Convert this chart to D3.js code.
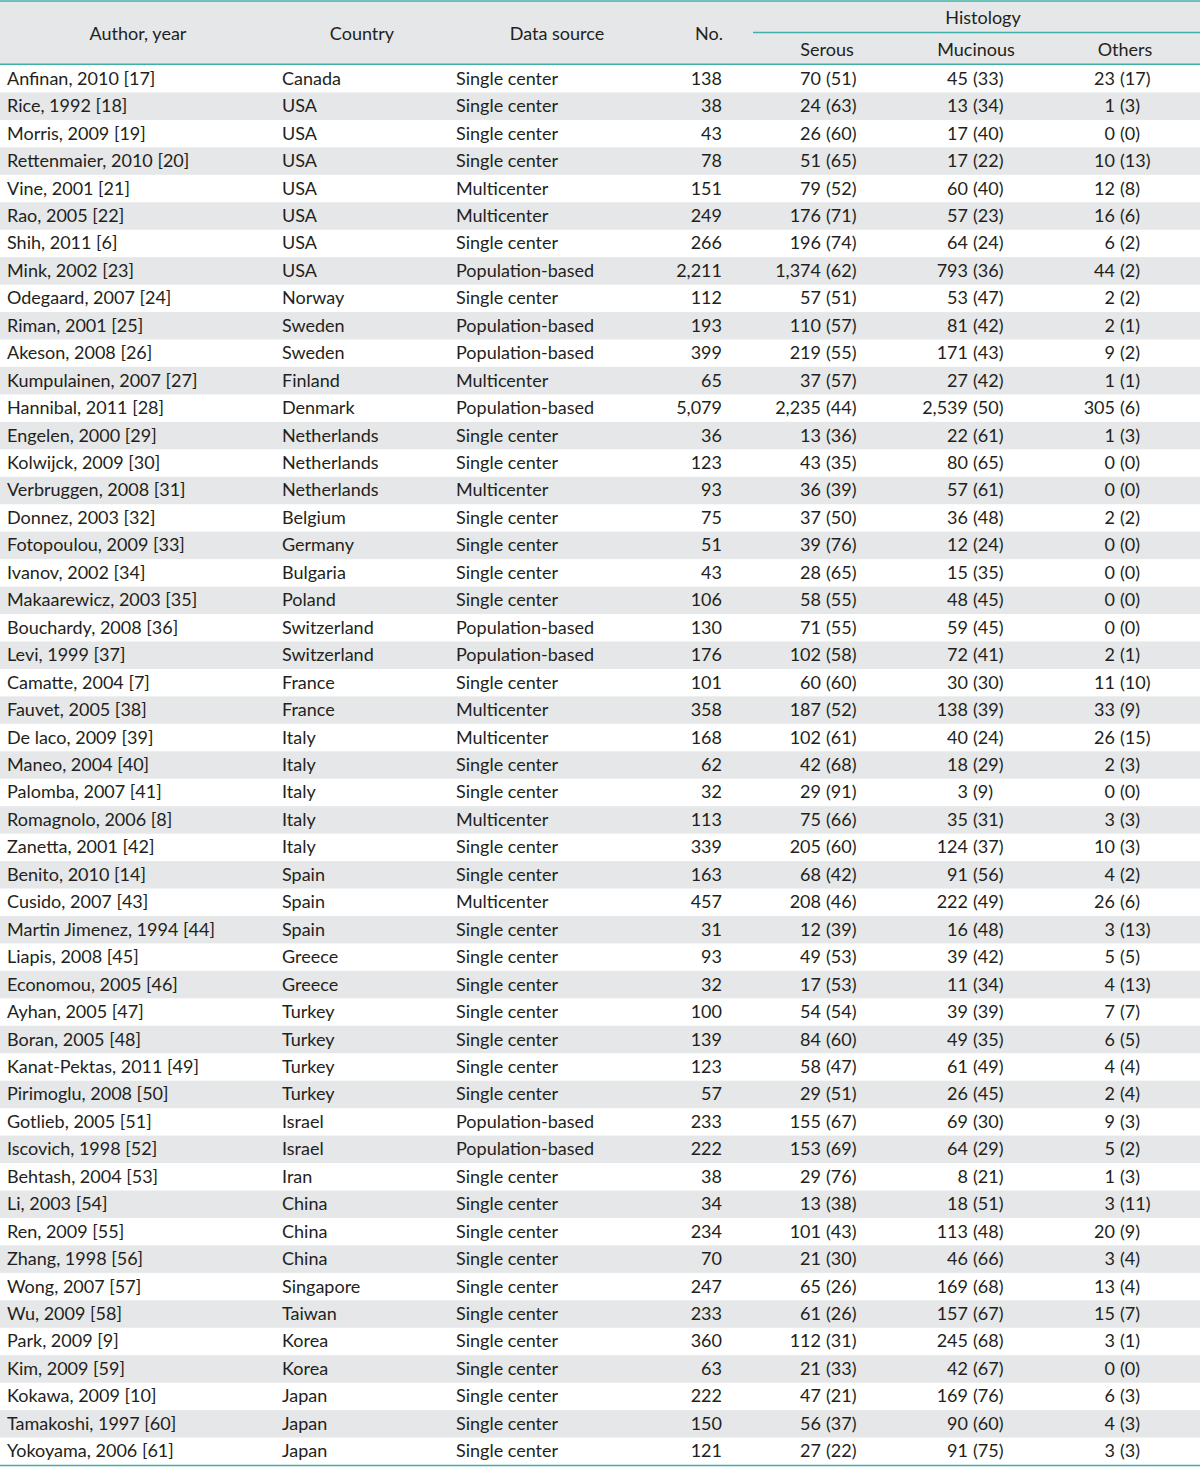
<!DOCTYPE html>
<html>
<head>
<meta charset="utf-8">
<script src="https://cdn.jsdelivr.net/npm/d3@7"></script>
<style>
  html, body { margin: 0; padding: 0; background: #fff; }
  svg text { font-family: 'Lato', 'Open Sans', sans-serif; font-size: 18px; fill: #231f20; }
</style>
</head>
<body>
<svg id="tbl" width="1200" height="1467"></svg>
<script>
// study table data
const authors = [
  'Anfinan, 2010 [17]', 'Rice, 1992 [18]', 'Morris, 2009 [19]', 'Rettenmaier, 2010 [20]',
  'Vine, 2001 [21]', 'Rao, 2005 [22]', 'Shih, 2011 [6]', 'Mink, 2002 [23]',
  'Odegaard, 2007 [24]', 'Riman, 2001 [25]', 'Akeson, 2008 [26]', 'Kumpulainen, 2007 [27]',
  'Hannibal, 2011 [28]', 'Engelen, 2000 [29]', 'Kolwijck, 2009 [30]', 'Verbruggen, 2008 [31]',
  'Donnez, 2003 [32]', 'Fotopoulou, 2009 [33]', 'Ivanov, 2002 [34]', 'Makaarewicz, 2003 [35]',
  'Bouchardy, 2008 [36]', 'Levi, 1999 [37]', 'Camatte, 2004 [7]', 'Fauvet, 2005 [38]',
  'De laco, 2009 [39]', 'Maneo, 2004 [40]', 'Palomba, 2007 [41]', 'Romagnolo, 2006 [8]',
  'Zanetta, 2001 [42]', 'Benito, 2010 [14]', 'Cusido, 2007 [43]', 'Martin Jimenez, 1994 [44]',
  'Liapis, 2008 [45]', 'Economou, 2005 [46]', 'Ayhan, 2005 [47]', 'Boran, 2005 [48]',
  'Kanat-Pektas, 2011 [49]', 'Pirimoglu, 2008 [50]', 'Gotlieb, 2005 [51]', 'Iscovich, 1998 [52]',
  'Behtash, 2004 [53]', 'Li, 2003 [54]', 'Ren, 2009 [55]', 'Zhang, 1998 [56]',
  'Wong, 2007 [57]', 'Wu, 2009 [58]', 'Park, 2009 [9]', 'Kim, 2009 [59]',
  'Kokawa, 2009 [10]', 'Tamakoshi, 1997 [60]', 'Yokoyama, 2006 [61]'
];
const countries = [
  'Canada', 'USA', 'USA', 'USA', 'USA', 'USA', 'USA', 'USA',
  'Norway', 'Sweden', 'Sweden', 'Finland', 'Denmark', 'Netherlands', 'Netherlands', 'Netherlands',
  'Belgium', 'Germany', 'Bulgaria', 'Poland', 'Switzerland', 'Switzerland', 'France', 'France',
  'Italy', 'Italy', 'Italy', 'Italy', 'Italy', 'Spain', 'Spain', 'Spain',
  'Greece', 'Greece', 'Turkey', 'Turkey', 'Turkey', 'Turkey', 'Israel', 'Israel',
  'Iran', 'China', 'China', 'China', 'Singapore', 'Taiwan', 'Korea', 'Korea',
  'Japan', 'Japan', 'Japan'
];
const S = 'Single center', M = 'Multicenter', P = 'Population-based';
const sources = [
  S, S, S, S, M, M, S, P,
  S, P, P, M, P, S, S, M,
  S, S, S, S, P, P, S, M,
  M, S, S, M, S, S, M, S,
  S, S, S, S, S, S, P, P,
  S, S, S, S, S, S, S, S,
  S, S, S
];
const totals = [
  '138', '38', '43', '78', '151', '249', '266', '2,211',
  '112', '193', '399', '65', '5,079', '36', '123', '93',
  '75', '51', '43', '106', '130', '176', '101', '358',
  '168', '62', '32', '113', '339', '163', '457', '31',
  '93', '32', '100', '139', '123', '57', '233', '222',
  '38', '34', '234', '70', '247', '233', '360', '63',
  '222', '150', '121'
];
// [count, percent]
const serous = [
  ['70', 51], ['24', 63], ['26', 60], ['51', 65], ['79', 52], ['176', 71], ['196', 74], ['1,374', 62],
  ['57', 51], ['110', 57], ['219', 55], ['37', 57], ['2,235', 44], ['13', 36], ['43', 35], ['36', 39],
  ['37', 50], ['39', 76], ['28', 65], ['58', 55], ['71', 55], ['102', 58], ['60', 60], ['187', 52],
  ['102', 61], ['42', 68], ['29', 91], ['75', 66], ['205', 60], ['68', 42], ['208', 46], ['12', 39],
  ['49', 53], ['17', 53], ['54', 54], ['84', 60], ['58', 47], ['29', 51], ['155', 67], ['153', 69],
  ['29', 76], ['13', 38], ['101', 43], ['21', 30], ['65', 26], ['61', 26], ['112', 31], ['21', 33],
  ['47', 21], ['56', 37], ['27', 22]
];
const mucinous = [
  ['45', 33], ['13', 34], ['17', 40], ['17', 22], ['60', 40], ['57', 23], ['64', 24], ['793', 36],
  ['53', 47], ['81', 42], ['171', 43], ['27', 42], ['2,539', 50], ['22', 61], ['80', 65], ['57', 61],
  ['36', 48], ['12', 24], ['15', 35], ['48', 45], ['59', 45], ['72', 41], ['30', 30], ['138', 39],
  ['40', 24], ['18', 29], ['3', 9], ['35', 31], ['124', 37], ['91', 56], ['222', 49], ['16', 48],
  ['39', 42], ['11', 34], ['39', 39], ['49', 35], ['61', 49], ['26', 45], ['69', 30], ['64', 29],
  ['8', 21], ['18', 51], ['113', 48], ['46', 66], ['169', 68], ['157', 67], ['245', 68], ['42', 67],
  ['169', 76], ['90', 60], ['91', 75]
];
const others = [
  ['23', 17], ['1', 3], ['0', 0], ['10', 13], ['12', 8], ['16', 6], ['6', 2], ['44', 2],
  ['2', 2], ['2', 1], ['9', 2], ['1', 1], ['305', 6], ['1', 3], ['0', 0], ['0', 0],
  ['2', 2], ['0', 0], ['0', 0], ['0', 0], ['0', 0], ['2', 1], ['11', 10], ['33', 9],
  ['26', 15], ['2', 3], ['0', 0], ['3', 3], ['10', 3], ['4', 2], ['26', 6], ['3', 13],
  ['5', 5], ['4', 13], ['7', 7], ['6', 5], ['4', 4], ['2', 4], ['9', 3], ['5', 2],
  ['1', 3], ['3', 11], ['20', 9], ['3', 4], ['13', 4], ['15', 7], ['3', 1], ['0', 0],
  ['6', 3], ['4', 3], ['3', 3]
];
const histHeads = ['Serous', 'Mucinous', 'Others'];

const W = 1200, H = 1467;
const teal = '#3fb0a8';
const band = '#e6e7e8';

const svg = d3.select('#tbl');

// header
svg.append('rect').attr('x', 0).attr('y', 1).attr('width', W).attr('height', 63).attr('fill', band);

const rows = d3.scaleBand().domain(d3.range(authors.length)).range([65, 1465]);

// striped body
svg.append('g').selectAll('rect')
  .data(d3.range(authors.length).filter(i => i % 2 === 1))
  .join('rect')
  .attr('x', 0).attr('y', i => rows(i))
  .attr('width', W).attr('height', rows.bandwidth())
  .attr('fill', band);

// rules
const rule = (x1, x2, y, w) => svg.append('line')
  .attr('x1', x1).attr('x2', x2).attr('y1', y).attr('y2', y)
  .attr('stroke', teal).attr('stroke-width', w);
rule(0, W, 1, 1.6);
rule(0, W, 64.2, 1.4);
rule(753, W, 32.5, 1.4);
rule(0, W, 1465.5, 1.6);

// header labels
const head = svg.append('g');
const hText = (t, x, y) => head.append('text').text(t).attr('x', x).attr('y', y)
  .attr('text-anchor', 'middle').attr('dominant-baseline', 'central');
hText('Author, year', 138, 33);
hText('Country', 362, 33);
hText('Data source', 557, 33);
hText('No.', 709, 33);
hText('Histology', 983, 17);
const histCenters = [827, 976, 1125];
histHeads.forEach((h, i) => hText(h, histCenters[i], 49));

// body cells
const base = i => rows(i) + rows.bandwidth() / 2 + 6;
const body = svg.append('g');
const col = (arr, x, anchor) => body.append('g').selectAll('text')
  .data(arr).join('text')
  .attr('x', x).attr('y', (d, i) => base(i))
  .attr('text-anchor', anchor)
  .text(d => d);

col(authors, 7, 'start');
col(countries, 282, 'start');
col(sources, 456, 'start');
col(totals, 722, 'end');

// count right-aligned, percent in parentheses left-aligned after it
const histCols = [[serous, 821], [mucinous, 968], [others, 1115]];
histCols.forEach(([arr, x]) => {
  col(arr.map(d => d[0]), x, 'end');
  col(arr.map(d => '(' + d[1] + ')'), x + 5, 'start');
});
</script>
</body>
</html>
